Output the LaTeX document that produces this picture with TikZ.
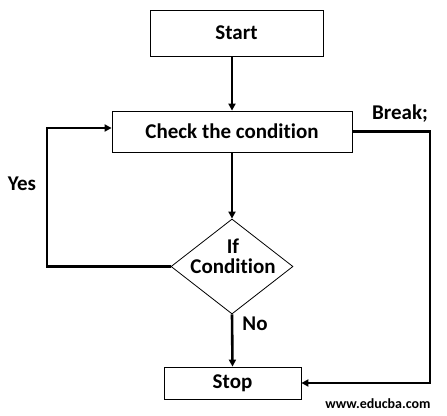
\documentclass[tikz,border=0pt]{standalone}
\usepackage{fontspec}
\setmainfont[Ligatures=NoCommon]{Carlito}
\usetikzlibrary{arrows.meta,shapes.geometric}

\begin{document}
\begin{tikzpicture}[x=1pt,y=-1pt,font=\bfseries\fontsize{21}{23}\selectfont,
  box/.style={draw,line width=0.8pt,rectangle,minimum width=#1,inner sep=0pt},
  flow/.style={line width=2.6pt,-{Triangle[length=7pt,width=7pt]}}]
\useasboundingbox (0,0) rectangle (447,415);
\node[box=173pt,minimum height=46pt] (start) at (236.5,33) {Start};
\node[box=240pt,minimum height=41pt] (check) at (232,131.5) {Check the condition};
\node[draw,line width=0.8pt,diamond,minimum width=122pt,minimum height=95pt,inner sep=0pt] (cond) at (232,266.5) {};
\node[align=center] (condtxt) at (233,256) {If\\[-3pt]Condition};
\node[box=137pt,minimum height=32pt] (stop) at (232.5,383) {Stop};
\draw[flow] (start.south -| check.north) -- (check.north);
\draw[flow] (check.south) -- (cond.north);
\draw[flow] (cond.south) -- (stop.north);
\draw[flow] (cond.west) -- (47,266.5) -- (47,128) -- (check.west |- 0,128);
\draw[flow] (check.east) -- (430,131.5) -- (430,383) -- (stop.east);
\node (yes) at (22,184) {Yes};
\node (no) at (255,324) {No};
\node (brk) at (400,114) {Break;};
\node[font=\bfseries\fontsize{14}{16}\selectfont] (web) at (378,404) {www.educba.com};
\end{tikzpicture}
\end{document}
